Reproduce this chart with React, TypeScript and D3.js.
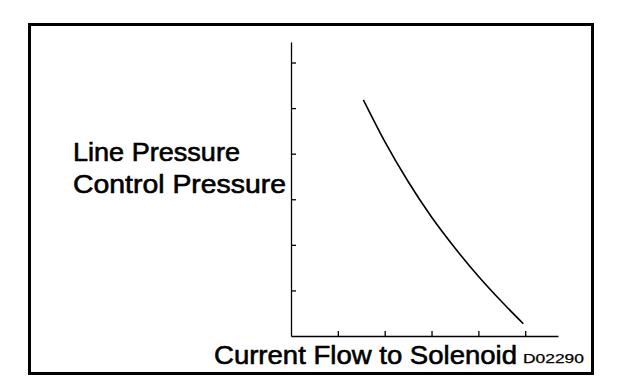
import * as d3 from 'd3';
import { useEffect, useRef } from 'react';

// current flow (arbitrary units, 1 unit = one x tick)
const currentFlow = [1.545, 2.0, 2.5, 3.0, 3.5, 4.0, 4.5, 4.96];
// line / control pressure (arbitrary units, 1 unit = one y tick)
const pressure = [5.18, 4.27, 3.39, 2.61, 1.93, 1.31, 0.75, 0.27];

const xTicks = [1, 2, 3, 4, 5];
const yTicks = [1, 2, 3, 4, 5, 6];
const yLabelLines = ['Line Pressure', 'Control Pressure'];
const xLabel = 'Current Flow to Solenoid';
const figureCode = 'D02290';

const WIDTH = 624;
const HEIGHT = 392;
const FONT = "'Liberation Sans', Arial, Helvetica, sans-serif";

export default function App() {
  const svgRef = useRef<SVGSVGElement | null>(null);

  useEffect(() => {
    if (!svgRef.current) return;
    const svg = d3.select(svgRef.current);
    svg.selectAll('*').remove();

    svg.append('rect').attr('width', WIDTH).attr('height', HEIGHT).attr('fill', '#fff');

    // outer frame
    svg
      .append('rect')
      .attr('x', 29.5)
      .attr('y', 24.5)
      .attr('width', 563)
      .attr('height', 349)
      .attr('fill', 'none')
      .attr('stroke', '#000')
      .attr('stroke-width', 3);

    const x = d3.scaleLinear().domain([0, 5.7]).range([291, 558]);
    const y = d3.scaleLinear().domain([0, 6.45]).range([336, 42]);

    const xAxis = d3
      .axisBottom(x)
      .tickValues(xTicks)
      .tickSizeInner(-5)
      .tickSizeOuter(0)
      .tickFormat(() => '');
    const yAxis = d3
      .axisLeft(y)
      .tickValues(yTicks)
      .tickSizeInner(-5)
      .tickSizeOuter(0)
      .tickFormat(() => '');

    const gx = svg.append('g').attr('transform', `translate(0,${y(0)})`).call(xAxis);
    const gy = svg.append('g').attr('transform', `translate(${x(0)},0)`).call(yAxis);
    [gx, gy].forEach((g) => {
      g.selectAll('path, line').attr('stroke', '#000').attr('stroke-width', 1.3);
    });

    const line = d3
      .line<number>()
      .x((_, i) => x(currentFlow[i]))
      .y((d) => y(d))
      .curve(d3.curveMonotoneX);

    svg
      .append('path')
      .datum(pressure)
      .attr('d', line)
      .attr('fill', 'none')
      .attr('stroke', '#000')
      .attr('stroke-width', 1.6);

    const textGroup = svg
      .append('g')
      .attr('font-family', FONT)
      .attr('fill', '#000')
      .attr('stroke', '#000')
      .attr('stroke-width', 0.6);

    textGroup
      .selectAll('text.ylabel')
      .data(yLabelLines)
      .join('text')
      .attr('class', 'ylabel')
      .attr('x', 73)
      .attr('y', (_, i) => 161 + i * 32)
      .attr('font-size', 25.5)
      .attr('textLength', (_, i) => (i === 0 ? 167 : 213))
      .attr('lengthAdjust', 'spacingAndGlyphs')
      .text((d) => d);

    textGroup
      .append('text')
      .attr('x', 214)
      .attr('y', 364)
      .attr('font-size', 26)
      .attr('textLength', 303)
      .attr('lengthAdjust', 'spacingAndGlyphs')
      .text(xLabel);

    textGroup
      .append('text')
      .attr('x', 523)
      .attr('y', 363)
      .attr('font-size', 12.5)
      .attr('stroke-width', 0.25)
      .attr('textLength', 61)
      .attr('lengthAdjust', 'spacingAndGlyphs')
      .text(figureCode);
  }, []);

  return (
    <div style={{ position: 'fixed', left: 0, top: 0, width: WIDTH, height: HEIGHT, overflow: 'hidden' }}>
      <svg ref={svgRef} width={WIDTH} height={HEIGHT} style={{ display: 'block' }} />
    </div>
  );
}
